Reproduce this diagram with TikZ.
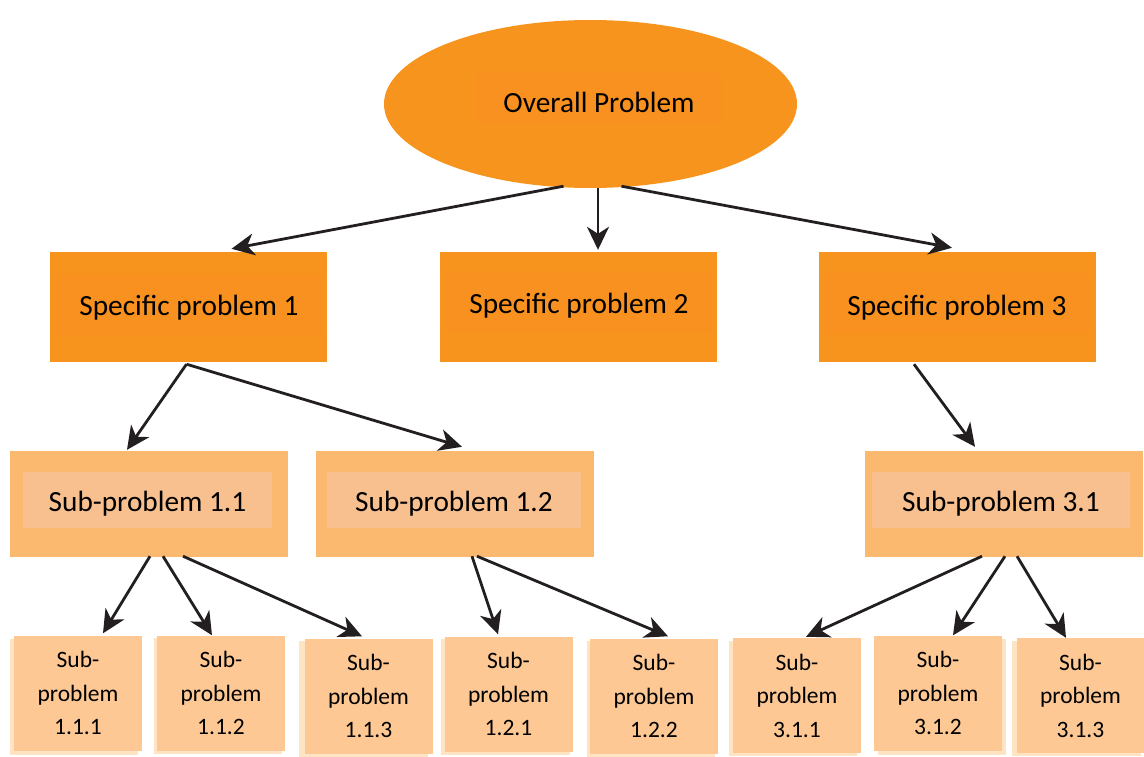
\documentclass[tikz,border=0pt]{standalone}
\usepackage{fontspec}
\setmainfont{Carlito}
\usetikzlibrary{shapes.geometric,arrows.meta,backgrounds}
\definecolor{orangeA}{HTML}{F7941D}
\definecolor{orangeB}{HTML}{F8911F}
\definecolor{subOut}{HTML}{FBB970}
\definecolor{subIn}{HTML}{F9C08F}
\definecolor{leafc}{HTML}{FDC894}
\definecolor{leafsh}{HTML}{FEE4C2}
\definecolor{arrc}{HTML}{231F20}
\tikzset{
  top/.style={ellipse,fill=orangeA,minimum width=413pt,minimum height=168pt,inner sep=0pt},
  inbox/.style={rectangle,inner sep=0pt,text=black},
  spbox/.style={rectangle,fill=orangeA,minimum width=277pt,minimum height=110pt,inner sep=0pt},
  subbox/.style={rectangle,fill=subOut,minimum width=278pt,minimum height=106pt,inner sep=0pt},
  leaf/.style={rectangle,fill=leafc,minimum width=128pt,minimum height=115pt,inner sep=0pt,align=center,font=\fontsize{23.5}{33.5}\selectfont},
  arr/.style={draw=arrc,line width=2.8pt,-{Stealth[length=23pt,width=22pt,inset=7pt]}},
  big/.style={font=\fontsize{29.3}{34}\selectfont}
}
\newcommand{\low}[1]{\raisebox{-4pt}[\height][\depth]{#1}}
\newcommand{\leafshadow}[3]{\fill[leafsh] ([shift={(#2,#3)}]#1.south west) rectangle ([shift={(#2,#3)}]#1.north east);}
\begin{document}
\begin{tikzpicture}[x=1pt,y=-1pt]
\useasboundingbox (0,0) rectangle (1144,757);
% top
\node[top] (op) at (590.5,104) {};
\node[inbox,fill=orangeB,minimum width=246pt,minimum height=51pt,big] (opt) at (599,98.5) {\low{Overall Problem}};
% specific problems
\node[spbox] (sp1) at (188.5,307) {};
\node[inbox,fill=orangeB,minimum width=266pt,minimum height=61pt,big] (sp1t) at (189,304) {\low{Specific problem 1}};
\node[spbox] (sp2) at (578.5,307) {};
\node[inbox,fill=orangeB,minimum width=266pt,minimum height=61pt,big] (sp2t) at (579,302) {\low{Specific problem 2}};
\node[spbox] (sp3) at (957,307) {};
\node[inbox,fill=orangeB,minimum width=266pt,minimum height=61pt,big] (sp3t) at (957,303.5) {\low{Specific problem 3}};
% sub-problems
\node[subbox] (s11) at (149,504) {};
\node[inbox,fill=subIn,minimum width=249pt,minimum height=56pt,big] (s11t) at (147.5,500) {\low{Sub-problem 1.1}};
\node[subbox] (s12) at (454.5,504) {};
\node[inbox,fill=subIn,minimum width=254pt,minimum height=56pt,big] (s12t) at (454,500) {\low{Sub-problem 1.2}};
\node[subbox] (s31) at (1003.5,504) {};
\node[inbox,fill=subIn,minimum width=258pt,minimum height=56pt,big] (s31t) at (1001,499.5) {\low{Sub-problem 3.1}};
% leaves
\node[leaf] (b111) at (78,693) {Sub-\\problem\\1.1.1};
\node[leaf] (b112) at (221,693) {Sub-\\problem\\1.1.2};
\node[leaf] (b113) at (368.5,696) {Sub-\\problem\\1.1.3};
\node[leaf] (b121) at (508.5,694) {Sub-\\problem\\1.2.1};
\node[leaf] (b122) at (654,696) {Sub-\\problem\\1.2.2};
\node[leaf] (b311) at (797,695.5) {Sub-\\problem\\3.1.1};
\node[leaf] (b312) at (938,693) {Sub-\\problem\\3.1.2};
\node[leaf] (b313) at (1080.5,695.5) {Sub-\\problem\\3.1.3};
\begin{pgfonlayer}{background}
\leafshadow{b111}{-4}{4}
\leafshadow{b112}{-3}{3}
\leafshadow{b113}{-5}{3}
\leafshadow{b121}{-3}{3}
\leafshadow{b122}{-3}{3}
\leafshadow{b311}{-4}{3}
\leafshadow{b312}{4}{4}
\leafshadow{b313}{-4}{3}
\end{pgfonlayer}
% arrows
\draw[arr] ([xshift=-27,yshift=2]op.south) -- ([xshift=43,yshift=3]sp1.north);
\draw[arr] ([xshift=7.5]op.south) -- ([xshift=19.5,yshift=2]sp2.north);
\draw[arr] ([xshift=31,yshift=2]op.south) -- ([xshift=-5,yshift=4]sp3.north);
\draw[arr] ([xshift=-2,yshift=-2]sp1.south) -- ([xshift=-22,yshift=1]s11.north);
\draw[arr] ([xshift=-2,yshift=-2]sp1.south) -- ([xshift=7.5,yshift=4]s12.north);
\draw[arr] ([xshift=-43,yshift=-2]sp3.south) -- ([xshift=-28.5,yshift=4]s31.north);
\draw[arr] ([xshift=1,yshift=1]s11.south) -- ([xshift=25,yshift=2]b111.north);
\draw[arr] ([xshift=14,yshift=1]s11.south) -- ([xshift=-9,yshift=0]b112.north);
\draw[arr] ([xshift=34,yshift=1]s11.south) -- ([xshift=-6.5,yshift=2]b113.north);
\draw[arr] ([xshift=17.5,yshift=1]s12.south) -- ([xshift=-10.5,yshift=2]b121.north);
\draw[arr] ([xshift=22.5,yshift=1]s12.south) -- ([xshift=14,yshift=2]b122.north);
\draw[arr] ([xshift=-21.5,yshift=1]s31.south) -- ([xshift=9,yshift=1]b311.north);
\draw[arr] ([xshift=1.5,yshift=1]s31.south) -- ([xshift=15,yshift=0]b312.north);
\draw[arr] ([xshift=13.5,yshift=1]s31.south) -- ([xshift=-14.5,yshift=0]b313.north);
\end{tikzpicture}
\end{document}
